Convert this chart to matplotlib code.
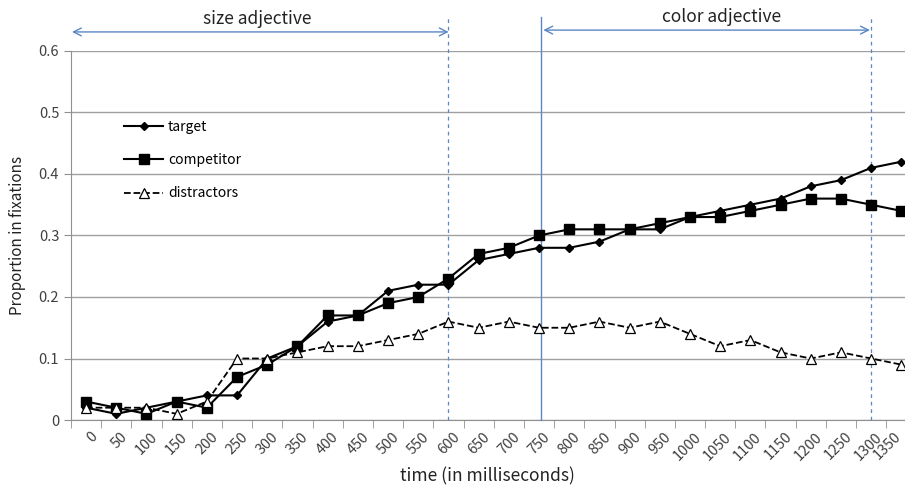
import numpy as np
import matplotlib.pyplot as plt
from matplotlib.transforms import ScaledTranslation

times = [0, 50, 100, 150, 200, 250, 300, 350, 400, 450, 500, 550, 600, 650,
         700, 750, 800, 850, 900, 950, 1000, 1050, 1100, 1150, 1200, 1250, 1300, 1350]
target = [0.02, 0.01, 0.02, 0.03, 0.04, 0.04, 0.10, 0.12, 0.16, 0.17, 0.21, 0.22, 0.22, 0.26,
          0.27, 0.28, 0.28, 0.29, 0.31, 0.31, 0.33, 0.34, 0.35, 0.36, 0.38, 0.39, 0.41, 0.42]
competitor = [0.03, 0.02, 0.01, 0.03, 0.02, 0.07, 0.09, 0.12, 0.17, 0.17, 0.19, 0.20, 0.23, 0.27,
              0.28, 0.30, 0.31, 0.31, 0.31, 0.32, 0.33, 0.33, 0.34, 0.35, 0.36, 0.36, 0.35, 0.34]
distractors = [0.02, 0.02, 0.02, 0.01, 0.03, 0.10, 0.10, 0.11, 0.12, 0.12, 0.13, 0.14, 0.16, 0.15,
               0.16, 0.15, 0.15, 0.16, 0.15, 0.16, 0.14, 0.12, 0.13, 0.11, 0.10, 0.11, 0.10, 0.09]

plt.rcParams['font.family'] = ['Noto Sans CJK KR', 'DejaVu Sans']

fig = plt.figure(figsize=(9.05, 4.86), dpi=100)
ax = fig.add_axes([71 / 905, 1 - 420 / 486, (905 - 71) / 905, (420 - 51) / 486])

x = np.arange(len(times))
ax.plot(x, target, '-', color='black', lw=1.5, marker='D', ms=4.5, label='target', zorder=4)
ax.plot(x, competitor, '-', color='black', lw=1.5, marker='s', ms=7, label='competitor', zorder=4)
ax.plot(x, distractors, '--', color='black', lw=1.3, marker='^', ms=7, mfc='white',
        mec='black', mew=0.9, label='distractors', zorder=4)

ax.set_yticks(np.arange(0, 0.61, 0.1))
ax.set_yticklabels(['0', '0.1', '0.2', '0.3', '0.4', '0.5', '0.6'], fontsize=10.5, color='#404040')
ax.yaxis.grid(True, color='#a0a0a0', lw=1)
ax.set_axisbelow(True)

ax.set_xticks(x)
ax.set_xticklabels([str(t) for t in times], rotation=45, ha='right', rotation_mode='anchor',
                   fontsize=10.5, color='#404040')
ax.tick_params(axis='x', which='major', length=0, pad=7)
labels = ax.get_xticklabels()
for i, lbl in enumerate(labels):
    dx = 4 if i < len(labels) - 1 else -8   # keep the last one inside the picture
    lbl.set_transform(lbl.get_transform() + ScaledTranslation(dx / 100, 0, fig.dpi_scale_trans))
ax.set_xticks(np.arange(-0.5, 27.0, 1), minor=True)
ax.tick_params(axis='x', which='minor', length=6, color='#909090')
ax.tick_params(axis='y', length=5, color='#909090', direction='out')

# limits after the ticks, so set_xticks cannot widen them
ax.set_xlim(-0.5, 27.12)
ax.set_ylim(0, 0.6)

for s in ['top', 'right']:
    ax.spines[s].set_visible(False)
for s in ['left', 'bottom']:
    ax.spines[s].set_color('#909090')

fig.text(487 / 905, 1 - 476 / 486, 'time (in milliseconds)', ha='center', va='center',
         fontsize=12.5, color='#222222')
ax.set_ylabel('Proportion in fixations', fontsize=11, color='#222222', labelpad=9)

blue = '#5A87C5'
ax.plot([12, 12], [0, 0.655], ls=(0, (3, 3)), color=blue, lw=0.9, clip_on=False, zorder=3)
ax.plot([26, 26], [0, 0.655], ls=(0, (3, 3)), color=blue, lw=0.9, clip_on=False, zorder=3)
ax.plot([15.05, 15.05], [0, 0.655], '-', color=blue, lw=1.0, clip_on=False, zorder=3)

ax.annotate('', xy=(12.1, 0.631), xytext=(-0.56, 0.631), annotation_clip=False,
            arrowprops=dict(arrowstyle='<->', color=blue, lw=1.0, mutation_scale=14))
ax.annotate('', xy=(26.05, 0.634), xytext=(15.05, 0.634), annotation_clip=False,
            arrowprops=dict(arrowstyle='<->', color=blue, lw=1.0, mutation_scale=14))
ax.text(5.66, 0.652, 'size adjective', ha='center', va='center', fontsize=12.5, color='#222222')
ax.text(21.06, 0.655, 'color adjective', ha='center', va='center', fontsize=12.5, color='#222222')

ax.legend(loc='upper left', bbox_to_anchor=(0.049, 0.848), frameon=False, fontsize=10,
          handlelength=2.8, labelspacing=1.4, handletextpad=0.35)

fig.savefig('out.png', dpi=100)
